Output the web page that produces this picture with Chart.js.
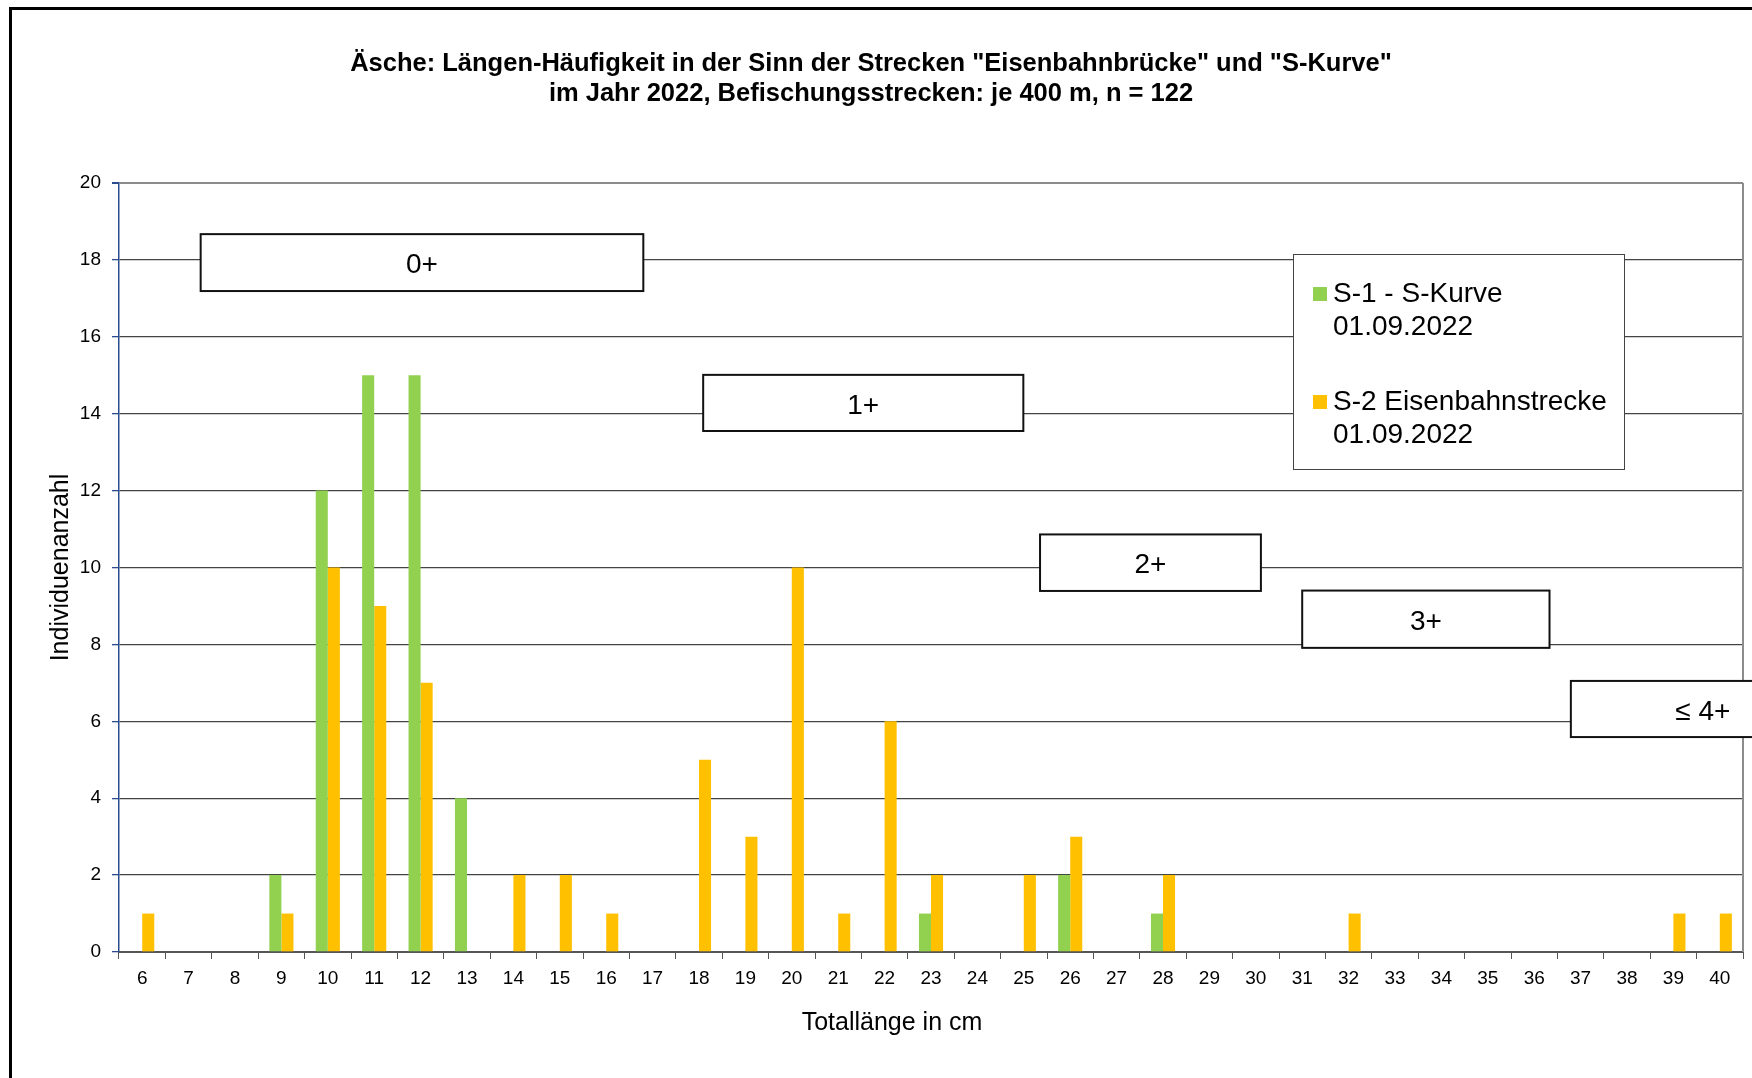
<!DOCTYPE html>
<html lang="de">
<head>
<meta charset="utf-8">
<title>Äsche: Längen-Häufigkeit 2022</title>
<script src="https://cdn.jsdelivr.net/npm/chart.js@4.4.1/dist/chart.umd.min.js"></script>
<style>
  html, body { margin: 0; padding: 0; background: #fff; }
  #wrap { position: relative; width: 1752px; height: 1078px; overflow: hidden; }
</style>
</head>
<body>
<div id="wrap"><canvas id="chart" width="1752" height="1078"></canvas></div>
<script>
// Längenklassen (cm) und Individuen je Strecke
const lengths = ['6', '7', '8', '9', '10', '11', '12', '13', '14', '15', '16', '17', '18', '19', '20', '21', '22', '23',
                 '24', '25', '26', '27', '28', '29', '30', '31', '32', '33', '34', '35', '36', '37', '38', '39', '40'];
const s1Counts = [0, 0, 0, 2, 12, 15, 15, 4, 0, 0, 0, 0, 0, 0, 0, 0, 0, 1, 0, 0, 2, 0, 1,
                  0, 0, 0, 0, 0, 0, 0, 0, 0, 0, 0, 0];
const s2Counts = [1, 0, 0, 1, 10, 9, 7, 0, 2, 2, 1, 0, 5, 3, 10, 1, 6, 2, 0, 2, 3, 0, 2,
                  0, 0, 0, 1, 0, 0, 0, 0, 0, 0, 1, 1];
const seriesNames = [['S-1 - S-Kurve', '01.09.2022'], ['S-2 Eisenbahnstrecke', '01.09.2022']];
const ageClasses = ['0+', '1+', '2+', '3+', '\u2264 4+'];
const titleLines = ['Äsche: Längen-Häufigkeit in der Sinn der Strecken "Eisenbahnbrücke" und "S-Kurve"',
                    'im Jahr 2022, Befischungsstrecken: je 400 m, n = 122'];
const xTitle = 'Totallänge in cm';
const yTitle = 'Individuenanzahl';

const GREEN = '#92D050';
const ORANGE = '#FFC000';
const FONT = '"Liberation Sans", Arial, sans-serif';

// Altersklassen-Kästen in Achseneinheiten (x in cm, y in Individuen)
const ageBoxes = [
    { x0: 7.26, x1: 16.80, y0: 17.19, y1: 18.67 },
    { x0: 18.09, x1: 24.99, y0: 13.55, y1: 15.01 },
    { x0: 25.35, x1: 30.11, y0: 9.39, y1: 10.86 },
    { x0: 31.00, x1: 36.33, y0: 7.91, y1: 9.40 },
    { x0: 36.79, x1: 42.48, y0: 5.59, y1: 7.05 }
];

function cmToPixel(xScale, cm) {
    return xScale.getPixelForValue(cm - Number(lengths[0]));
}

const decorPlugin = {
    id: 'decor',
    beforeDraw(chart) {
        const ctx = chart.ctx;
        ctx.save();
        ctx.strokeStyle = '#000';
        ctx.lineWidth = 3;
        ctx.beginPath();
        ctx.moveTo(10.5, 1078);
        ctx.lineTo(10.5, 8.5);
        ctx.lineTo(1752, 8.5);
        ctx.stroke();
        ctx.restore();
    },
    afterDraw(chart) {
        const ctx = chart.ctx;
        const area = chart.chartArea;
        const xs = chart.scales.x;
        const ys = chart.scales.y;
        ctx.save();

        // rechter Rand der Zeichenfläche
        ctx.strokeStyle = '#8c8c8c';
        ctx.lineWidth = 2;
        ctx.beginPath();
        ctx.moveTo(area.right, area.top);
        ctx.lineTo(area.right, area.bottom);
        ctx.stroke();

        // Altersklassen
        ctx.font = '28px ' + FONT;
        ctx.textAlign = 'center';
        ctx.textBaseline = 'middle';
        ageBoxes.forEach((b, i) => {
            const l = cmToPixel(xs, b.x0), r = cmToPixel(xs, b.x1);
            const t = ys.getPixelForValue(b.y1), btm = ys.getPixelForValue(b.y0);
            ctx.fillStyle = '#fff';
            ctx.fillRect(l, t, r - l, btm - t);
            ctx.strokeStyle = '#111';
            ctx.lineWidth = 2;
            ctx.strokeRect(l, t, r - l, btm - t);
            ctx.fillStyle = '#000';
            ctx.fillText(ageClasses[i], (l + r) / 2, (t + btm) / 2 + 3);
        });

        // Legende
        const lx = 1293, ly = 254, lw = 331, lh = 215;
        ctx.fillStyle = '#fff';
        ctx.fillRect(lx, ly, lw, lh);
        ctx.strokeStyle = '#444';
        ctx.lineWidth = 1;
        ctx.strokeRect(lx + 0.5, ly + 0.5, lw, lh);
        ctx.textAlign = 'left';
        ctx.textBaseline = 'alphabetic';
        ctx.font = '28px ' + FONT;
        chart.data.datasets.forEach((ds, i) => {
            const base = 302 + i * 108;
            ctx.fillStyle = ds.backgroundColor;
            ctx.fillRect(1313, base - 15, 14, 14);
            ctx.fillStyle = '#000';
            seriesNames[i].forEach((line, k) => ctx.fillText(line, 1333, base + k * 32.5));
        });

        // Titel
        ctx.textAlign = 'center';
        ctx.font = 'bold 25.5px ' + FONT;
        ctx.fillText(titleLines[0], 871, 71);
        ctx.fillText(titleLines[1], 871, 101);

        // Achsentitel
        ctx.font = '25px ' + FONT;
        ctx.fillText(xTitle, 892, 1030);
        ctx.translate(68, (area.top + area.bottom) / 2);
        ctx.rotate(-Math.PI / 2);
        ctx.fillText(yTitle, 0, 0);
        ctx.restore();
    }
};

new Chart(document.getElementById('chart'), {
    type: 'bar',
    data: {
        labels: lengths,
        datasets: [
            { label: seriesNames[0].join(' '), data: s1Counts, backgroundColor: GREEN, borderWidth: 0 },
            { label: seriesNames[1].join(' '), data: s2Counts, backgroundColor: ORANGE, borderWidth: 0 }
        ]
    },
    options: {
        responsive: false,
        devicePixelRatio: 1,
        animation: false,
        categoryPercentage: 0.52,
        barPercentage: 1.0,
        layout: { padding: { top: 183, right: 9, bottom: 0, left: 0 } },
        plugins: {
            legend: { display: false },
            title: { display: false },
            tooltip: { enabled: false }
        },
        scales: {
            x: {
                offset: true,
                grid: {
                    offset: true,
                    drawOnChartArea: false,
                    drawTicks: true,
                    tickLength: 7,
                    tickColor: '#555'
                },
                border: { color: '#555', width: 2 },
                ticks: { color: '#000', font: { family: FONT, size: 19 }, padding: 8, maxRotation: 0, autoSkip: false },
                afterFit(scale) { scale.height = 126; }
            },
            y: {
                min: 0,
                max: 20,
                grid: {
                    color: c => c.tick.value === 20 ? '#8c8c8c' : '#444',
                    lineWidth: c => c.tick.value === 20 ? 2 : 1.3,
                    tickLength: 7,
                    tickColor: '#2b4c8c'
                },
                border: { color: '#2b4c8c', width: 1.5 },
                ticks: { stepSize: 2, color: '#000', font: { family: FONT, size: 19 }, padding: 11 },
                afterFit(scale) { scale.width = 119; }
            }
        }
    },
    plugins: [decorPlugin]
});
</script>
</body>
</html>
